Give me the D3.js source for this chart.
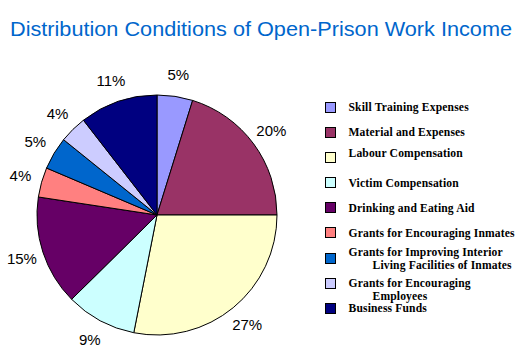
<!DOCTYPE html>
<html><head><meta charset="utf-8">
<script src="https://cdn.jsdelivr.net/npm/d3@7"></script>
<style>body{margin:0;background:#fff}svg{display:block}</style>
</head><body>
<script>
const title = "Distribution Conditions of Open-Prison Work Income";
const categories = [
  "Skill Training Expenses",
  "Material and Expenses",
  "Labour Compensation",
  "Victim Compensation",
  "Drinking and Eating Aid",
  "Grants for Encouraging Inmates",
  "Grants for Improving Interior\nLiving Facilities of Inmates",
  "Grants for Encouraging\nEmployees",
  "Business Funds"
];
const values = [4.8, 20.2, 28.1, 9.5, 14.8, 4.0, 4.4, 3.7, 10.5];
const valueLabels = ["5%", "20%", "27%", "9%", "15%", "4%", "5%", "4%", "11%"];
const colors = ["#9999FF", "#993366", "#FFFFCC", "#CCFFFF", "#660066", "#FF8080", "#0066CC", "#CCCCFF", "#000080"];

const W = 521, H = 356;
const svg = d3.select("body").append("svg").attr("width", W).attr("height", H);

svg.append("text").attr("x", 10).attr("y", 36)
  .attr("font-family", "Liberation Sans, Arial, sans-serif").attr("font-size", 21)
  .attr("fill", "#0066CC").attr("textLength", 502).attr("lengthAdjust", "spacingAndGlyphs")
  .text(title);

const cx = 157, cy = 215, R = 120;
const pie = d3.pie().sort(null).value(d => d)(values);
const arc = d3.arc().innerRadius(0).outerRadius(R);
const labelArc = d3.arc().innerRadius(142).outerRadius(142);
const g = svg.append("g").attr("transform", `translate(${cx},${cy})`);
g.selectAll("path").data(pie).join("path")
  .attr("d", arc).attr("fill", (d, i) => colors[i])
  .attr("stroke", "#000").attr("stroke-width", 1).attr("stroke-linejoin", "round");
g.selectAll("text").data(pie).join("text")
  .attr("transform", d => `translate(${labelArc.centroid(d)})`)
  .attr("text-anchor", "middle").attr("dy", "0.35em")
  .attr("font-family", "Liberation Sans, Arial, sans-serif").attr("font-size", 15)
  .attr("fill", "#000").text((d, i) => valueLabels[i]);

const rowY = d3.scaleLinear().domain([0, categories.length - 1]).range([107.3, 308.3]);
const textDy = [0, 0, -4.5, 0, 0, 0, -6.2, -0.3, 0];
const leg = svg.append("g");
categories.forEach((c, i) => {
  const y = rowY(i);
  leg.append("rect").attr("x", 325.5).attr("y", Math.round(y - 5.5) + 0.5)
    .attr("width", 10).attr("height", 10)
    .attr("fill", colors[i]).attr("stroke", "#000").attr("stroke-width", 1);
  const lines = c.split("\n");
  lines.forEach((ln, j) => {
    leg.append("text").attr("x", j === 0 ? 348.5 : 372.5).attr("y", y + textDy[i] + j * 12.6)
      .attr("dy", "0.35em")
      .attr("font-family", "Liberation Serif, 'Times New Roman', serif")
      .attr("font-weight", "bold").attr("font-size", 11.6).attr("letter-spacing", 0.15)
      .attr("fill", "#000")
      .text(ln);
  });
});
</script>
</body></html>
